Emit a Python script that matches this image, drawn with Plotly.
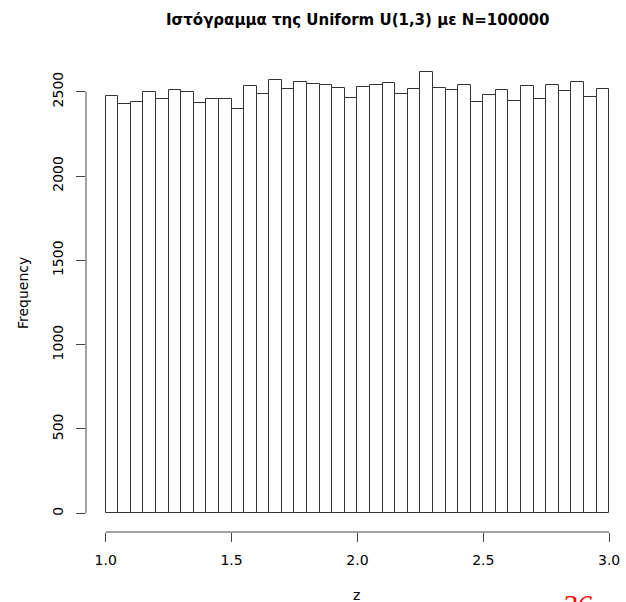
import plotly.graph_objects as go

# Data (40 bins of width 0.05 from 1.0 to 3.0)
bin_start = 1.0
bin_width = 0.05
counts = [2473, 2427, 2437, 2500, 2459, 2508, 2496, 2433, 2459, 2459,
          2396, 2532, 2485, 2568, 2514, 2560, 2544, 2538, 2520, 2461,
          2526, 2538, 2550, 2487, 2514, 2615, 2522, 2508, 2538, 2437,
          2482, 2508, 2445, 2532, 2455, 2542, 2504, 2560, 2467, 2514]
x_ticks = [1.0, 1.5, 2.0, 2.5, 3.0]
x_tick_labels = ["1.0", "1.5", "2.0", "2.5", "3.0"]
y_ticks = [0, 500, 1000, 1500, 2000, 2500]
y_tick_labels = ["0", "500", "1000", "1500", "2000", "2500"]

centers = [bin_start + bin_width * (i + 0.5) for i in range(len(counts))]

W, H = 626, 602
L, R, T, B = 86, 4, 55, 70
plot_w = W - L - R
plot_h = H - T - B

def px_x(p):  # window pixel -> paper x
    return (p - L) / plot_w

def px_y(p):  # window pixel -> paper y
    return (H - B - p) / plot_h

fig = go.Figure()
fig.add_trace(go.Bar(
    x=centers, y=counts, width=[bin_width] * len(counts),
    marker=dict(color="white", line=dict(color="#333333", width=1)),
    hoverinfo="x+y", showlegend=False,
))

font = dict(family="DejaVu Sans, Arial, sans-serif", size=14, color="black")

fig.update_layout(
    width=W, height=H,
    margin=dict(l=L, r=R, t=T, b=B, pad=0),
    paper_bgcolor="white", plot_bgcolor="white",
    font=font,
    bargap=0,
    xaxis=dict(
        range=[0.9217, 0.9217 + plot_w / 251.7], tickvals=x_ticks, ticktext=x_tick_labels,
        ticks="outside", ticklen=9, tickcolor="#444444", tickwidth=1,
        showgrid=False, zeroline=False, showline=False,
        ticklabelstandoff=6, tickfont=font, ticklabeloverflow="allow",
    ),
    yaxis=dict(
        range=[-110.9, 2717.6], tickvals=y_ticks, ticktext=y_tick_labels,
        ticks="outside", ticklen=9, tickcolor="#444444", tickwidth=1,
        showgrid=False, zeroline=False, showline=False,
        tickangle=-90, ticklabelstandoff=7, tickfont=font,
    ),
    shapes=[
        dict(type="line", xref="x", yref="paper", x0=x_ticks[0], x1=x_ticks[-1],
             y0=0, y1=0, line=dict(color="#444444", width=1)),
        dict(type="line", xref="paper", yref="y", x0=0, x1=0,
             y0=y_ticks[0], y1=y_ticks[-1], line=dict(color="#444444", width=1)),
    ],
    annotations=[
        dict(text="<b>Ιστόγραμμα της Uniform U(1,3) με N=100000</b>",
             xref="paper", yref="paper", x=px_x(357.5), y=px_y(20),
             xanchor="center", yanchor="middle", showarrow=False,
             font=dict(family="DejaVu Sans, Arial, sans-serif", size=15, color="black")),
        dict(text="z", xref="paper", yref="paper", x=px_x(356), y=px_y(595),
             xanchor="center", yanchor="middle", showarrow=False, font=font),
        dict(text="Frequency", xref="paper", yref="paper", x=px_x(23), y=px_y(293),
             xanchor="center", yanchor="middle", showarrow=False, textangle=-90, font=font),
        dict(text="<i>26</i>", xref="paper", yref="paper", x=px_x(577), y=px_y(586),
             xanchor="center", yanchor="top", showarrow=False,
             font=dict(family="Liberation Serif, Times New Roman, serif", size=30, color="red")),
    ],
)

fig.write_html(
    "out.html",
    config={"displayModeBar": False},
    post_script="document.body.style.margin='0';document.body.style.overflow='hidden';",
)
